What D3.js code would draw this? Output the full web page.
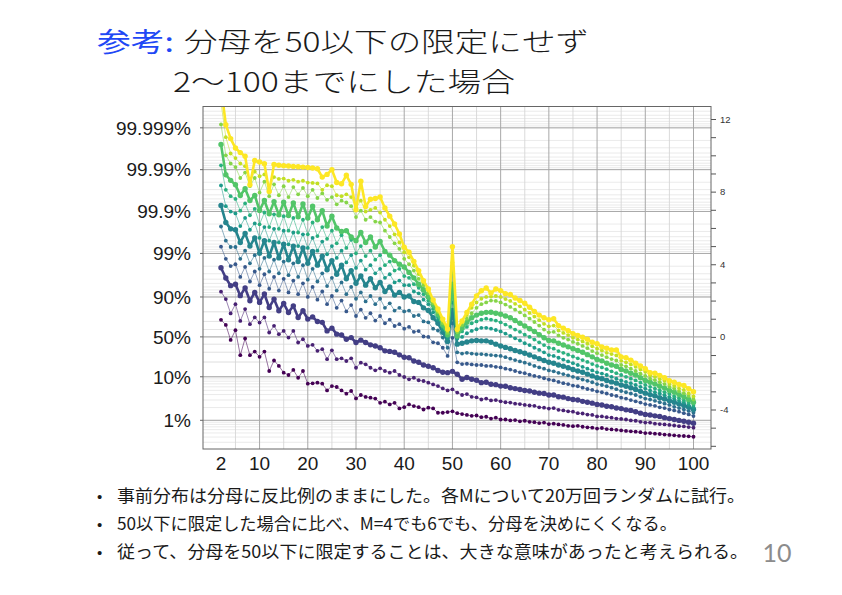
<!DOCTYPE html>
<html><head><meta charset="utf-8">
<script src="https://cdn.jsdelivr.net/npm/d3@7"></script>
<style>html,body{margin:0;padding:0;background:#fff;} svg{display:block;}</style>
</head><body>
<svg id="c" width="842" height="595"></svg>
<script>
// x categories: denominators 2..100
const denominators = d3.range(2, 101);

// logit of the success probability, one array per series (x = 2..100)
const s0 = [0.94,0.66,-0.17,0.37,-1.01,-0.09,-1.01,-0.81,-1.1,-0.81,
 -1.88,-1.3,-1.6,-1.97,-2.1,-1.82,-2.25,-1.88,-2.58,-2.56,
 -2.52,-2.58,-2.95,-2.71,-2.76,-2.95,-3.13,-2.98,-3.39,-3.2,
 -3.31,-3.35,-3.4,-3.63,-3.57,-3.72,-3.63,-3.94,-3.87,-3.72,
 -3.81,-3.87,-4.0,-3.9,-3.94,-4.18,-4.18,-4.14,-4.1,-4.2,
 -4.25,-4.3,-4.35,-4.33,-4.42,-4.4,-4.5,-4.45,-4.55,-4.55,
 -4.6,-4.58,-4.65,-4.62,-4.68,-4.7,-4.75,-4.72,-4.8,-4.78,
 -4.82,-4.85,-4.9,-4.92,-4.9,-4.95,-4.98,-5.0,-5.05,-5.02,
 -5.08,-5.1,-5.12,-5.15,-5.18,-5.2,-5.22,-5.25,-5.3,-5.3,
 -5.33,-5.35,-5.38,-5.4,-5.42,-5.45,-5.46,-5.48,-5.5];
const s1 = [2.49,2.08,1.29,1.8,0.88,1.53,0.7,1.07,0.79,1.07,
 0.24,0.61,0.15,0.33,-0.04,0.33,-0.31,-0.13,-0.5,-0.44,
 -0.77,-0.68,-1.23,-0.74,-1.23,-1.18,-1.33,-1.18,-1.7,-1.42,
 -1.51,-1.7,-1.84,-1.73,-1.88,-1.97,-1.88,-2.1,-2.21,-2.34,
 -2.25,-2.39,-2.43,-2.52,-2.62,-2.71,-2.84,-2.95,-2.89,-3.07,
 -3.2,-3.15,-3.3,-3.33,-3.45,-3.4,-3.5,-3.48,-3.55,-3.6,
 -3.62,-3.68,-3.7,-3.75,-3.78,-3.8,-3.88,-3.9,-3.95,-3.92,
 -4.02,-4.05,-4.1,-4.12,-4.2,-4.22,-4.28,-4.3,-4.38,-4.38,
 -4.42,-4.45,-4.5,-4.52,-4.55,-4.6,-4.62,-4.68,-4.72,-4.72,
 -4.78,-4.8,-4.82,-4.85,-4.88,-4.92,-4.93,-4.97,-5.0];
const s2 = [3.81,3.24,2.82,2.9,2.27,2.69,1.99,2.45,1.9,2.36,
 1.62,2.08,1.44,1.84,1.34,1.71,1.07,1.44,0.98,1.1,
 0.85,0.8,0.33,0.48,0.15,0.1,-0.13,-0.04,-0.31,-0.18,
 -0.31,-0.44,-0.5,-0.6,-0.77,-0.8,-0.85,-0.99,-1.12,-1.15,
 -1.33,-1.4,-1.55,-1.62,-1.7,-1.85,-1.95,-1.97,-1.9,-2.06,
 -2.33,-2.24,-2.33,-2.39,-2.52,-2.5,-2.61,-2.63,-2.71,-2.72,
 -2.8,-2.85,-2.9,-2.95,-2.98,-3.05,-3.1,-3.12,-3.2,-3.2,
 -3.3,-3.32,-3.4,-3.45,-3.48,-3.55,-3.6,-3.65,-3.72,-3.75,
 -3.82,-3.85,-3.92,-3.95,-4.02,-4.05,-4.12,-4.2,-4.27,-4.3,
 -4.35,-4.38,-4.45,-4.5,-4.55,-4.6,-4.65,-4.7,-4.76];
const s3 = [4.97,4.3,3.9,4.0,3.3,3.85,3.05,3.6,2.85,3.45,
 2.65,3.3,2.55,3.2,2.45,3.1,2.35,2.95,2.2,2.75,
 2.05,2.5,1.8,2.25,1.6,2.0,1.4,1.75,1.15,1.5,
 1.05,1.3,0.9,1.15,0.75,0.95,0.6,0.7,0.45,0.55,
 0.28,0.32,0.02,0.0,-0.3,-0.35,-0.6,-1.05,-0.05,-1.4,
 -1.5,-1.48,-1.52,-1.55,-1.55,-1.6,-1.6,-1.65,-1.68,-1.75,
 -1.8,-1.88,-1.95,-2.0,-2.08,-2.15,-2.2,-2.28,-2.35,-2.4,
 -2.48,-2.55,-2.6,-2.68,-2.72,-2.8,-2.87,-2.92,-3.0,-3.05,
 -3.12,-3.2,-3.25,-3.35,-3.4,-3.48,-3.55,-3.62,-3.7,-3.75,
 -3.8,-3.88,-3.92,-4.0,-4.05,-4.12,-4.2,-4.27,-4.36];
const s4 = [6.08,5.3,4.95,4.95,4.3,4.75,4.05,4.5,3.75,4.35,
 3.6,4.25,3.5,4.15,3.4,4.05,3.3,3.95,3.15,3.75,
 3.05,3.5,2.8,3.25,2.55,3.0,2.35,2.75,2.1,2.45,
 1.95,2.25,1.8,2.1,1.6,1.85,1.45,1.6,1.4,1.45,
 1.15,1.2,0.85,0.8,0.45,0.35,-0.04,-0.6,0.75,-0.85,
 -0.92,-0.88,-0.92,-0.95,-0.95,-0.98,-1.0,-1.03,-1.05,-1.12,
 -1.2,-1.28,-1.35,-1.42,-1.5,-1.6,-1.68,-1.75,-1.85,-1.9,
 -1.98,-2.05,-2.12,-2.2,-2.28,-2.35,-2.42,-2.5,-2.6,-2.65,
 -2.72,-2.8,-2.88,-2.98,-3.05,-3.12,-3.2,-3.3,-3.4,-3.45,
 -3.52,-3.6,-3.68,-3.75,-3.85,-3.92,-4.0,-4.08,-4.18];
const s5 = [7.24,6.3,5.95,5.9,5.2,5.7,5.0,5.45,4.6,5.3,
 4.45,5.2,4.35,5.1,4.25,5.0,4.15,4.9,4.05,4.7,
 3.95,4.45,3.7,4.2,3.45,3.95,3.2,3.65,2.95,3.35,
 2.85,3.2,2.7,3.0,2.5,2.75,2.3,2.45,2.2,2.25,
 1.95,1.9,1.6,1.45,1.05,0.75,0.25,-0.25,1.45,-0.4,
 -0.35,-0.28,-0.22,-0.2,-0.22,-0.22,-0.3,-0.4,-0.5,-0.58,
 -0.65,-0.75,-0.82,-0.9,-1.0,-1.1,-1.2,-1.3,-1.4,-1.45,
 -1.55,-1.62,-1.7,-1.8,-1.88,-1.95,-2.05,-2.15,-2.25,-2.3,
 -2.4,-2.48,-2.55,-2.65,-2.72,-2.8,-2.9,-3.0,-3.1,-3.18,
 -3.25,-3.35,-3.42,-3.52,-3.6,-3.7,-3.78,-3.88,-4.0];
const s6 = [8.34,7.2,6.9,6.8,6.1,6.55,5.9,6.25,5.45,6.05,
 5.3,5.95,5.2,5.85,5.1,5.75,5.0,5.65,4.9,5.45,
 4.75,5.25,4.55,5.0,4.35,4.75,4.1,4.5,3.8,4.2,
 3.7,3.95,3.5,3.75,3.25,3.45,3.0,3.1,2.85,2.85,
 2.5,2.4,2.05,1.8,1.35,0.95,0.4,-0.08,1.9,-0.1,
 0.0,0.2,0.33,0.42,0.5,0.5,0.45,0.38,0.3,0.18,
 0.05,-0.08,-0.2,-0.35,-0.45,-0.6,-0.72,-0.85,-1.0,-1.05,
 -1.15,-1.25,-1.35,-1.45,-1.55,-1.65,-1.75,-1.85,-1.95,-2.02,
 -2.1,-2.2,-2.3,-2.4,-2.48,-2.55,-2.65,-2.75,-2.85,-2.95,
 -3.05,-3.12,-3.22,-3.32,-3.42,-3.52,-3.62,-3.75,-3.88];
const s7 = [9.45,8.1,7.75,7.6,6.95,7.35,6.7,7.05,6.2,6.85,
 6.05,6.75,5.95,6.65,5.85,6.55,5.75,6.45,5.65,6.3,
 5.55,6.05,5.4,5.85,5.15,5.6,4.9,5.35,4.6,5.0,
 4.45,4.75,4.25,4.5,3.95,4.15,3.65,3.75,3.35,3.25,
 2.9,2.7,2.35,2.0,1.55,1.1,0.55,0.05,2.4,0.05,
 0.3,0.55,0.75,0.85,0.95,1.0,0.95,0.9,0.8,0.68,
 0.55,0.4,0.28,0.12,0.0,-0.15,-0.3,-0.45,-0.6,-0.65,
 -0.78,-0.88,-0.98,-1.08,-1.18,-1.28,-1.38,-1.5,-1.6,-1.68,
 -1.78,-1.9,-2.0,-2.1,-2.2,-2.3,-2.4,-2.52,-2.65,-2.75,
 -2.85,-2.95,-3.05,-3.15,-3.28,-3.38,-3.5,-3.62,-3.75];
const s8 = [10.6,8.93,8.62,8.38,7.79,8.16,7.51,7.79,6.96,7.51,
 6.78,7.45,6.72,7.42,6.68,7.38,6.62,7.32,6.55,7.2,
 6.45,6.95,6.1,6.65,6.0,5.8,5.85,5.5,5.3,5.75,
 5.2,5.5,4.95,5.25,4.7,4.5,4.2,4.0,3.85,3.55,
 3.25,2.9,2.6,2.2,1.75,1.25,0.65,0.12,2.9,0.05,
 0.5,0.8,1.05,1.2,1.3,1.35,1.36,1.3,1.25,1.15,
 1.05,0.9,0.75,0.6,0.45,0.3,0.12,-0.05,-0.2,-0.22,
 -0.35,-0.45,-0.55,-0.65,-0.75,-0.85,-0.98,-1.1,-1.25,-1.32,
 -1.45,-1.55,-1.62,-1.8,-1.88,-2.0,-2.1,-2.25,-2.4,-2.5,
 -2.6,-2.72,-2.82,-2.95,-3.05,-3.18,-3.3,-3.45,-3.6];
const s9 = [11.7,10.0,9.55,9.35,8.75,9.05,8.3,8.75,7.95,8.55,
 7.75,8.4,7.8,8.3,7.7,8.25,7.85,8.2,7.75,8.1,
 7.65,7.9,7.55,7.7,7.3,7.5,7.4,7.2,6.6,6.95,
 6.45,6.6,6.35,6.3,5.85,5.5,5.15,4.85,4.3,4.0,
 3.65,3.2,2.85,2.4,1.85,1.35,0.75,0.22,3.5,0.25,
 0.65,1.0,1.3,1.6,1.8,1.9,2.0,1.98,1.9,1.78,
 1.65,1.5,1.35,1.18,1.0,0.82,0.62,0.4,0.25,0.28,
 0.08,-0.05,-0.15,-0.28,-0.38,-0.5,-0.62,-0.78,-0.9,-1.0,
 -1.12,-1.22,-1.3,-1.55,-1.62,-1.75,-1.88,-2.02,-2.15,-2.3,
 -2.38,-2.5,-2.6,-2.75,-2.85,-3.0,-3.1,-3.25,-3.45];
const s10 = [12.9,11.0,10.1,9.85,9.55,9.4,8.55,9.1,8.85,8.95,
 8.15,8.8,8.7,8.72,8.6,8.65,8.55,8.6,8.5,8.48,
 8.45,8.1,8.35,8.3,7.8,7.75,7.85,7.7,7.1,7.5,
 6.9,7.0,7.1,6.85,6.45,6.1,5.65,5.2,4.66,4.38,
 3.92,3.46,3.0,2.54,1.99,1.44,0.88,0.33,4.1,0.35,
 0.8,1.2,1.6,1.9,2.1,2.2,2.22,2.25,2.2,2.08,
 1.98,1.82,1.68,1.5,1.32,1.12,0.92,0.72,0.58,0.62,
 0.35,0.22,0.1,-0.05,-0.15,-0.25,-0.38,-0.52,-0.65,-0.75,
 -0.88,-0.95,-1.02,-1.32,-1.4,-1.52,-1.65,-1.8,-1.92,-2.12,
 -2.2,-2.32,-2.42,-2.6,-2.7,-2.85,-2.92,-3.1,-3.28];
const s11 = [13.8,11.69,10.92,10.4,10.15,9.95,8.38,9.72,9.63,9.54,
 8.01,9.5,9.45,9.43,9.41,9.39,9.37,9.35,9.33,9.3,
 9.26,8.8,8.95,9.21,8.5,8.43,8.9,8.4,7.0,8.57,
 7.18,7.58,7.62,7.7,7.1,6.65,6.22,5.67,4.94,4.66,
 4.16,3.65,3.1,2.64,2.03,1.54,0.98,0.43,4.97,0.42,
 0.88,1.35,1.8,2.26,2.54,2.69,2.42,2.64,2.55,2.38,
 2.33,2.14,2.0,1.85,1.63,1.4,1.2,1.05,0.95,1.0,
 0.62,0.48,0.34,0.18,0.08,-0.02,-0.13,-0.3,-0.38,-0.55,
 -0.63,-0.72,-0.72,-1.1,-1.15,-1.28,-1.45,-1.6,-1.75,-1.98,
 -2.0,-2.12,-2.25,-2.42,-2.5,-2.62,-2.68,-2.85,-3.02];

const seriesValues = [s0,s1,s2,s3,s4,s5,s6,s7,s8,s9,s10,s11];
const seriesColors = ["#440154","#482173","#433e85","#38598c","#2d708e","#25858e",
                      "#1e9b8a","#2ab07f","#52c569","#86d549","#c2df23","#fde725"];
const thickSeries = [2,5,8,11];

const probTicks = [0.01,0.1,0.5,0.9,0.99,0.999,0.9999,0.99999];
const probLabels = ["1%","10%","50%","90%","99%","99.9%","99.99%","99.999%"];
const xTickValues = [2,10,20,30,40,50,60,70,80,90,100];
const logitLabelTicks = [-4,0,4,8,12];

const bullets = [
  "事前分布は分母に反比例のままにした。各Mについて20万回ランダムに試行。",
  "50以下に限定した場合に比べ、M=4でも6でも、分母を決めにくくなる。",
  "従って、分母を50以下に限定することは、大きな意味があったと考えられる。"
];

const svg = d3.select("#c");
svg.append("rect").attr("width",842).attr("height",595).attr("fill","#fff");

const L = 203, R = 711, T = 106.5, B = 449;
const x = d3.scaleLinear().domain([2,100]).range([221,693.5]);
const y = d3.scaleLinear().domain([-4,12]).range([409.5,119]);
const logit = p => Math.log(p/(1-p));
const yLo = y.invert(B), yHi = y.invert(T);

// ---- grid ----
const grid = svg.append("g");
const minorP = [];
for (let e = 1; e <= 7; e++) {
  for (let k = 1; k <= 9; k++) {
    minorP.push(k*Math.pow(10,-e));
    minorP.push(1 - k*Math.pow(10,-e));
  }
}
minorP.filter(p => p > 0 && p < 1).map(logit).filter(v => v > yLo && v < yHi).forEach(v => {
  grid.append("line").attr("x1",L).attr("x2",R).attr("y1",y(v)).attr("y2",y(v))
    .attr("stroke","#e4e4e4").attr("stroke-width",0.8);
});
[5,15,25,35,45,55,65,75,85,95].forEach(v => {
  grid.append("line").attr("x1",x(v)).attr("x2",x(v)).attr("y1",T).attr("y2",B)
    .attr("stroke","#d6d6d6").attr("stroke-width",0.9);
});
[10,20,30,40,50,60,70,80,90,100].forEach(v => {
  grid.append("line").attr("x1",x(v)).attr("x2",x(v)).attr("y1",T).attr("y2",B)
    .attr("stroke","#a8a8a8").attr("stroke-width",1);
});
probTicks.forEach(p => {
  grid.append("line").attr("x1",L).attr("x2",R).attr("y1",y(logit(p))).attr("y2",y(logit(p)))
    .attr("stroke","#a8a8a8").attr("stroke-width",1);
});

// ---- series ----
svg.append("clipPath").attr("id","plotclip").append("rect")
  .attr("x",L).attr("y",T).attr("width",R-L).attr("height",B-T);
const plot = svg.append("g").attr("clip-path","url(#plotclip)");
const line = d3.line().x((d,i) => x(denominators[i])).y(d => y(d));

seriesValues.forEach((vals, si) => {
  const thick = thickSeries.includes(si);
  const g = plot.append("g");
  g.append("path").datum(vals).attr("d", line)
    .attr("fill","none").attr("stroke",seriesColors[si])
    .attr("stroke-width", thick ? 2.6 : 1)
    .attr("stroke-opacity", thick ? 1 : 0.55)
    .attr("stroke-linejoin","round");
  g.selectAll("circle").data(vals).join("circle")
    .attr("cx",(d,i) => x(denominators[i])).attr("cy", d => y(d))
    .attr("r", thick ? 2.7 : 1.9).attr("fill", seriesColors[si]);
});

// ---- frame & axes ----
svg.append("rect").attr("x",L).attr("y",T).attr("width",R-L).attr("height",B-T)
  .attr("fill","none").attr("stroke","#666").attr("stroke-width",1);

const lab = "'Liberation Sans', Arial, sans-serif";
probTicks.forEach((p,i) => {
  const yy = y(logit(p));
  svg.append("line").attr("x1",L-3).attr("x2",L).attr("y1",yy).attr("y2",yy).attr("stroke","#666");
  svg.append("text").attr("x",191).attr("y",yy).attr("dy","0.36em")
    .attr("text-anchor","end").attr("font-family",lab).attr("font-size",19)
    .attr("fill","#1a1a1a").text(probLabels[i]);
});

xTickValues.forEach(v => {
  svg.append("text").attr("x",x(v)).attr("y",470).attr("text-anchor","middle")
    .attr("font-family",lab).attr("font-size",19).attr("fill","#1a1a1a").text(v);
});

const rAxis = d3.axisRight(y).tickValues(d3.range(-6,13)).tickSize(5)
  .tickFormat(d => logitLabelTicks.includes(d) ? d : "");
const rg = svg.append("g").attr("transform",`translate(${R},0)`).call(rAxis);
rg.select(".domain").remove();
rg.selectAll(".tick line").attr("stroke","#555");
rg.selectAll(".tick text").attr("font-family",lab).attr("font-size",9.5).attr("fill","#333").attr("x",9);

// ---- title ----
const jp = "'Noto Sans CJK JP', sans-serif";
svg.append("text").attr("x",97).attr("y",52).attr("font-family",jp)
  .attr("font-size",27).attr("fill","#1f48f5")
  .attr("textLength",77).attr("lengthAdjust","spacingAndGlyphs").text("参考:");
svg.append("text").attr("x",184).attr("y",52).attr("font-family",jp)
  .attr("font-size",27).attr("font-weight",300).attr("fill","#1a1a1a")
  .attr("textLength",405).attr("lengthAdjust","spacingAndGlyphs").text("分母を50以下の限定にせず");
svg.append("text").attr("x",173).attr("y",91.5).attr("font-family",jp)
  .attr("font-size",27).attr("font-weight",300).attr("fill","#1a1a1a")
  .attr("textLength",342).attr("lengthAdjust","spacingAndGlyphs").text("2～100までにした場合");

// ---- bullets ----
const bulletW = [628, 560, 631];
bullets.forEach((b,i) => {
  const by = 502 + i*28;
  svg.append("text").attr("x",97).attr("y",by).attr("font-family",lab).attr("font-size",15)
    .attr("fill","#1a1a1a").text("•");
  svg.append("text").attr("x",117).attr("y",by).attr("font-family",jp).attr("font-size",17)
    .attr("fill","#1a1a1a").attr("textLength",bulletW[i]).attr("lengthAdjust","spacingAndGlyphs").text(b);
});

svg.append("text").attr("x",777).attr("y",562).attr("text-anchor","middle")
  .attr("font-family","Lato, 'Open Sans', sans-serif").attr("font-size",25).attr("fill","#8c8c8c").text("10");
</script>
</body></html>
